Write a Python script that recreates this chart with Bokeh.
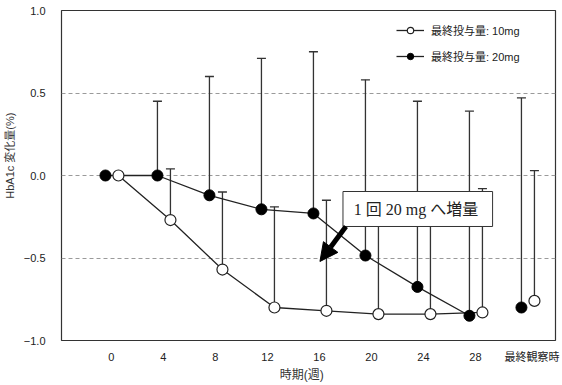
from bokeh.plotting import figure
from bokeh.models import (ColumnDataSource, Whisker, TeeHead, FixedTicker, Label,
                          Legend, LegendItem, Arrow, NormalHead, Range1d,
                          CustomJSTickFormatter)
from bokeh.embed import file_html
from bokeh.resources import INLINE

# Study visits (weeks) and the final observation
periods = ["0", "4", "8", "12", "16", "20", "24", "28", "最終観察時"]

# Mean change in HbA1c (%) and the upper end of the SD bar, final dose 20 mg
mean_20 = [0.00, 0.00, -0.12, -0.205, -0.23, -0.485, -0.675, -0.85, -0.80]
upper_20 = [None, 0.45, 0.60, 0.71, 0.75, 0.58, 0.45, 0.39, 0.47]

# Same for final dose 10 mg
mean_10 = [0.00, -0.27, -0.57, -0.80, -0.82, -0.84, -0.84, -0.83, -0.76]
upper_10 = [None, 0.04, -0.10, -0.19, -0.15, -0.20, -0.20, -0.08, 0.03]

label_20 = "最終投与量: 20mg"
label_10 = "最終投与量: 10mg"
note_text = "1 回 20 mg へ増量"
y_title = "HbA1c 変化量(%)"
x_title = "時期(週)"

SANS = "Liberation Sans, 'Noto Sans CJK JP', sans-serif"
SERIF = "'Liberation Serif', 'Noto Sans CJK JP', serif"
INK = "#222222"
NBSP = "\u00a0"

idx = list(range(len(periods)))
x_20 = [i - 0.115 for i in idx]
x_10 = [i + 0.135 for i in idx]

p = figure(width=562, height=385, output_backend="svg", toolbar_location=None,
           x_range=Range1d(-0.96, 8.54), y_range=Range1d(-1.0, 1.0),
           min_border_left=60, min_border_right=7, min_border_top=10,
           min_border_bottom=45)
p.background_fill_color = "white"
p.border_fill_color = "white"
p.outline_line_color = "#333333"
p.outline_line_width = 1.2

# axes
tick_text = list(periods)
tick_text[-1] = NBSP * 3 + tick_text[-1]
p.xaxis.ticker = FixedTicker(ticks=idx)
p.xaxis.major_label_overrides = {i: t for i, t in zip(idx, tick_text)}
p.yaxis.ticker = FixedTicker(ticks=[-1.0, -0.5, 0.0, 0.5, 1.0])
p.yaxis.formatter = CustomJSTickFormatter(code="return tick.toFixed(1).replace('-', '\u2212');")
for ax in (p.xaxis[0], p.yaxis[0]):
    ax.axis_line_color = None
    ax.major_tick_line_color = None
    ax.minor_tick_line_color = None
    ax.major_label_text_font = SANS
    ax.major_label_text_font_size = "11px"
    ax.major_label_text_color = INK
    ax.axis_label_text_font = SANS
    ax.axis_label_text_font_style = "normal"
    ax.axis_label_text_color = "#333333"
p.xaxis.major_label_standoff = 4
p.yaxis.major_label_standoff = 10

p.xaxis.axis_label = x_title + NBSP * 4
p.xaxis.axis_label_text_font_size = "12px"
p.xaxis.axis_label_standoff = 2
p.yaxis.axis_label = NBSP * 13 + y_title
p.yaxis.axis_label_text_font_size = "11px"
p.yaxis.axis_label_standoff = 5

p.xgrid.visible = False
p.ygrid.ticker = FixedTicker(ticks=[-0.5, 0.0, 0.5])
p.ygrid.grid_line_color = "#9a9a9a"
p.ygrid.grid_line_dash = "4 3"
p.ygrid.grid_line_width = 1

# SD bars (upper side only)
def bar_source(xs, means, uppers):
    keep = [k for k, u in enumerate(uppers) if u is not None]
    return ColumnDataSource(dict(x=[xs[k] for k in keep],
                                 lower=[means[k] for k in keep],
                                 upper=[uppers[k] for k in keep]))

for xs, means, uppers in ((x_20, mean_20, upper_20), (x_10, mean_10, upper_10)):
    p.add_layout(Whisker(source=bar_source(xs, means, uppers), base="x",
                         lower="lower", upper="upper", dimension="height",
                         line_color="#333333", line_width=1.3, lower_head=None,
                         upper_head=TeeHead(size=9, line_color="#333333", line_width=1.3)))

# connecting lines (visits up to week 28)
n_line = 8
line_20 = p.line(x_20[:n_line], mean_20[:n_line], line_color=INK, line_width=1.3)
line_10 = p.line(x_10[:n_line], mean_10[:n_line], line_color=INK, line_width=1.3)

dots_20 = p.scatter(x_20, mean_20, size=11, marker="circle",
                    fill_color="black", line_color="black", line_width=1)
dots_10 = p.scatter(x_10, mean_10, size=11, marker="circle",
                    fill_color="white", line_color=INK, line_width=1.2)

# callout box with the dose-escalation note
p.quad(left=[4.453], right=[7.33], top=[-0.097], bottom=[-0.309],
       fill_color="white", line_color="#333333", line_width=1)
p.add_layout(Label(x=4.66, y=-0.204, text=note_text, text_font=SERIF,
                   text_font_size="16px", text_color=INK,
                   text_align="left", text_baseline="middle"))
p.add_layout(Arrow(x_start=4.51, y_start=-0.309, x_end=4.01, y_end=-0.521,
                   line_width=5, line_color="black",
                   end=NormalHead(size=18, fill_color="black", line_color="black")))

# legend
legend = Legend(items=[LegendItem(label=label_10, renderers=[line_10, dots_10]),
                       LegendItem(label=label_20, renderers=[line_20, dots_20])],
                location=(335, 276), glyph_width=28, glyph_height=16,
                label_height=16, spacing=10, padding=5, label_standoff=7,
                label_text_font=SANS, label_text_font_size="11px",
                label_text_color=INK, border_line_color=None,
                background_fill_alpha=0)
p.add_layout(legend)

open("out.html", "w").write(file_html(p, INLINE))
